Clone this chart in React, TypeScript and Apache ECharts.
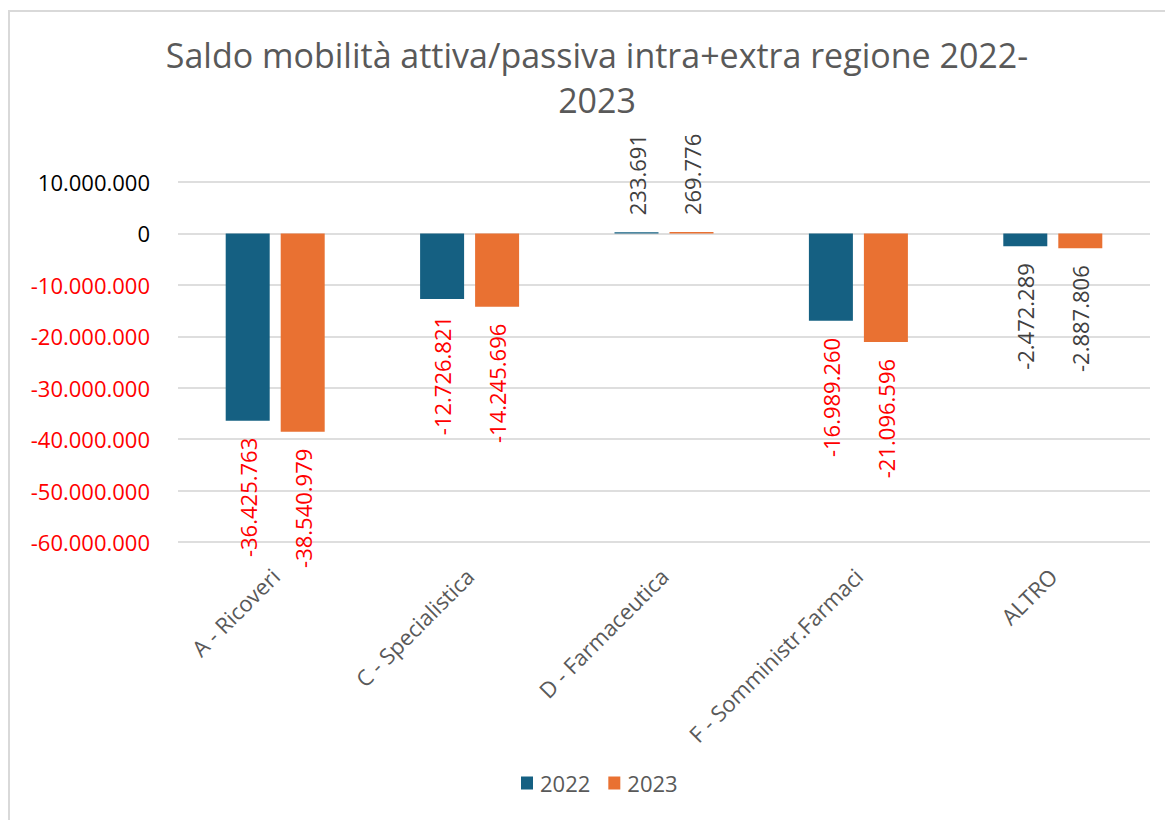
import React, { useEffect, useRef } from "react";
import * as echarts from "echarts";

const categories = ["A - Ricoveri", "C - Specialistica", "D - Farmaceutica", "F - Somministr.Farmaci", "ALTRO"];
const values2022 = [-36425763, -12726821, 233691, -16989260, -2472289];
const values2023 = [-38540979, -14245696, 269776, -21096596, -2887806];
const redLabel = [true, true, false, true, false];
const seriesNames = ["2022", "2023"];
const colors = ["#156082", "#E97132"];
const titleText = "Saldo mobilità attiva/passiva intra+extra regione 2022-\n2023";

const FONT = "'Open Sans', 'Liberation Sans', Arial, sans-serif";

function fmt(n: number): string {
  const s = String(Math.abs(Math.round(n))).replace(/\B(?=(\d{3})+(?!\d))/g, ".");
  return (n < 0 ? "-" : "") + s;
}

function buildData(vals: number[]) {
  return vals.map((v, i) => {
    const neg = v < 0;
    return {
      value: v,
      label: {
        position: neg ? "bottom" : "top",
        align: neg ? "right" : "left",
        verticalAlign: "middle",
        color: redLabel[i] ? "#FF0000" : "#404040",
      },
    };
  });
}

export default function App() {
  const ref = useRef<HTMLDivElement>(null);
  useEffect(() => {
    if (!ref.current) return;
    const chart = echarts.init(ref.current, undefined, { renderer: "svg" });
    const labelBase = {
      show: true,
      rotate: 90,
      distance: 17,
      fontSize: 22,
      fontFamily: FONT,
      formatter: (p: any) => fmt(p.value),
    };
    chart.setOption({
      animation: false,
      backgroundColor: "#ffffff",
      graphic: [
        {
          type: "rect",
          shape: { x: 9, y: 11, width: 1200, height: 900 },
          style: { fill: "none", stroke: "#D9D9D9", lineWidth: 2 },
          silent: true,
        },
        {
          type: "text",
          x: 597,
          y: 32,
          style: {
            text: titleText,
            textAlign: "center",
            textVerticalAlign: "top",
            fontFamily: FONT,
            fontSize: 34,
            lineHeight: 45,
            fill: "#595959",
          },
          silent: true,
        },
      ],
      legend: {
        data: seriesNames,
        bottom: 21,
        left: 516,
        itemWidth: 12,
        itemHeight: 13,
        itemGap: 18,
        icon: "rect",
        textStyle: { fontFamily: FONT, fontSize: 22, color: "#595959", padding: [0, 0, 0, 2] },
      },
      grid: { left: 178, right: 15, top: 182, bottom: 278, containLabel: false },
      xAxis: {
        type: "category",
        data: categories,
        axisLine: { show: false, onZero: false },
        axisTick: { show: false },
        axisLabel: {
          rotate: 45,
          margin: 30,
          interval: 0,
          fontFamily: FONT,
          fontSize: 22,
          color: "#595959",
        },
      },
      yAxis: {
        type: "value",
        min: -60000000,
        max: 10000000,
        interval: 10000000,
        axisLine: { show: false },
        axisTick: { show: false },
        splitLine: { lineStyle: { color: "#DEDEDE", width: 2 } },
        axisLabel: {
          margin: 28,
          fontFamily: FONT,
          fontSize: 22,
          formatter: (v: number) => fmt(v),
          color: (v: any) => (Number(v) < 0 ? "#FF0000" : "#000000"),
        },
      },
      series: [
        {
          name: seriesNames[0],
          type: "bar",
          data: buildData(values2022),
          itemStyle: { color: colors[0] },
          barWidth: 44,
          barGap: "25%",
          label: labelBase,
        },
        {
          name: seriesNames[1],
          type: "bar",
          data: buildData(values2023),
          itemStyle: { color: colors[1] },
          barWidth: 44,
          barGap: "25%",
          label: labelBase,
        },
      ],
    });
    return () => chart.dispose();
  }, []);
  return (
    <div
      ref={ref}
      style={{ position: "absolute", left: 0, top: 0, width: 1165, height: 820 }}
    />
  );
}
